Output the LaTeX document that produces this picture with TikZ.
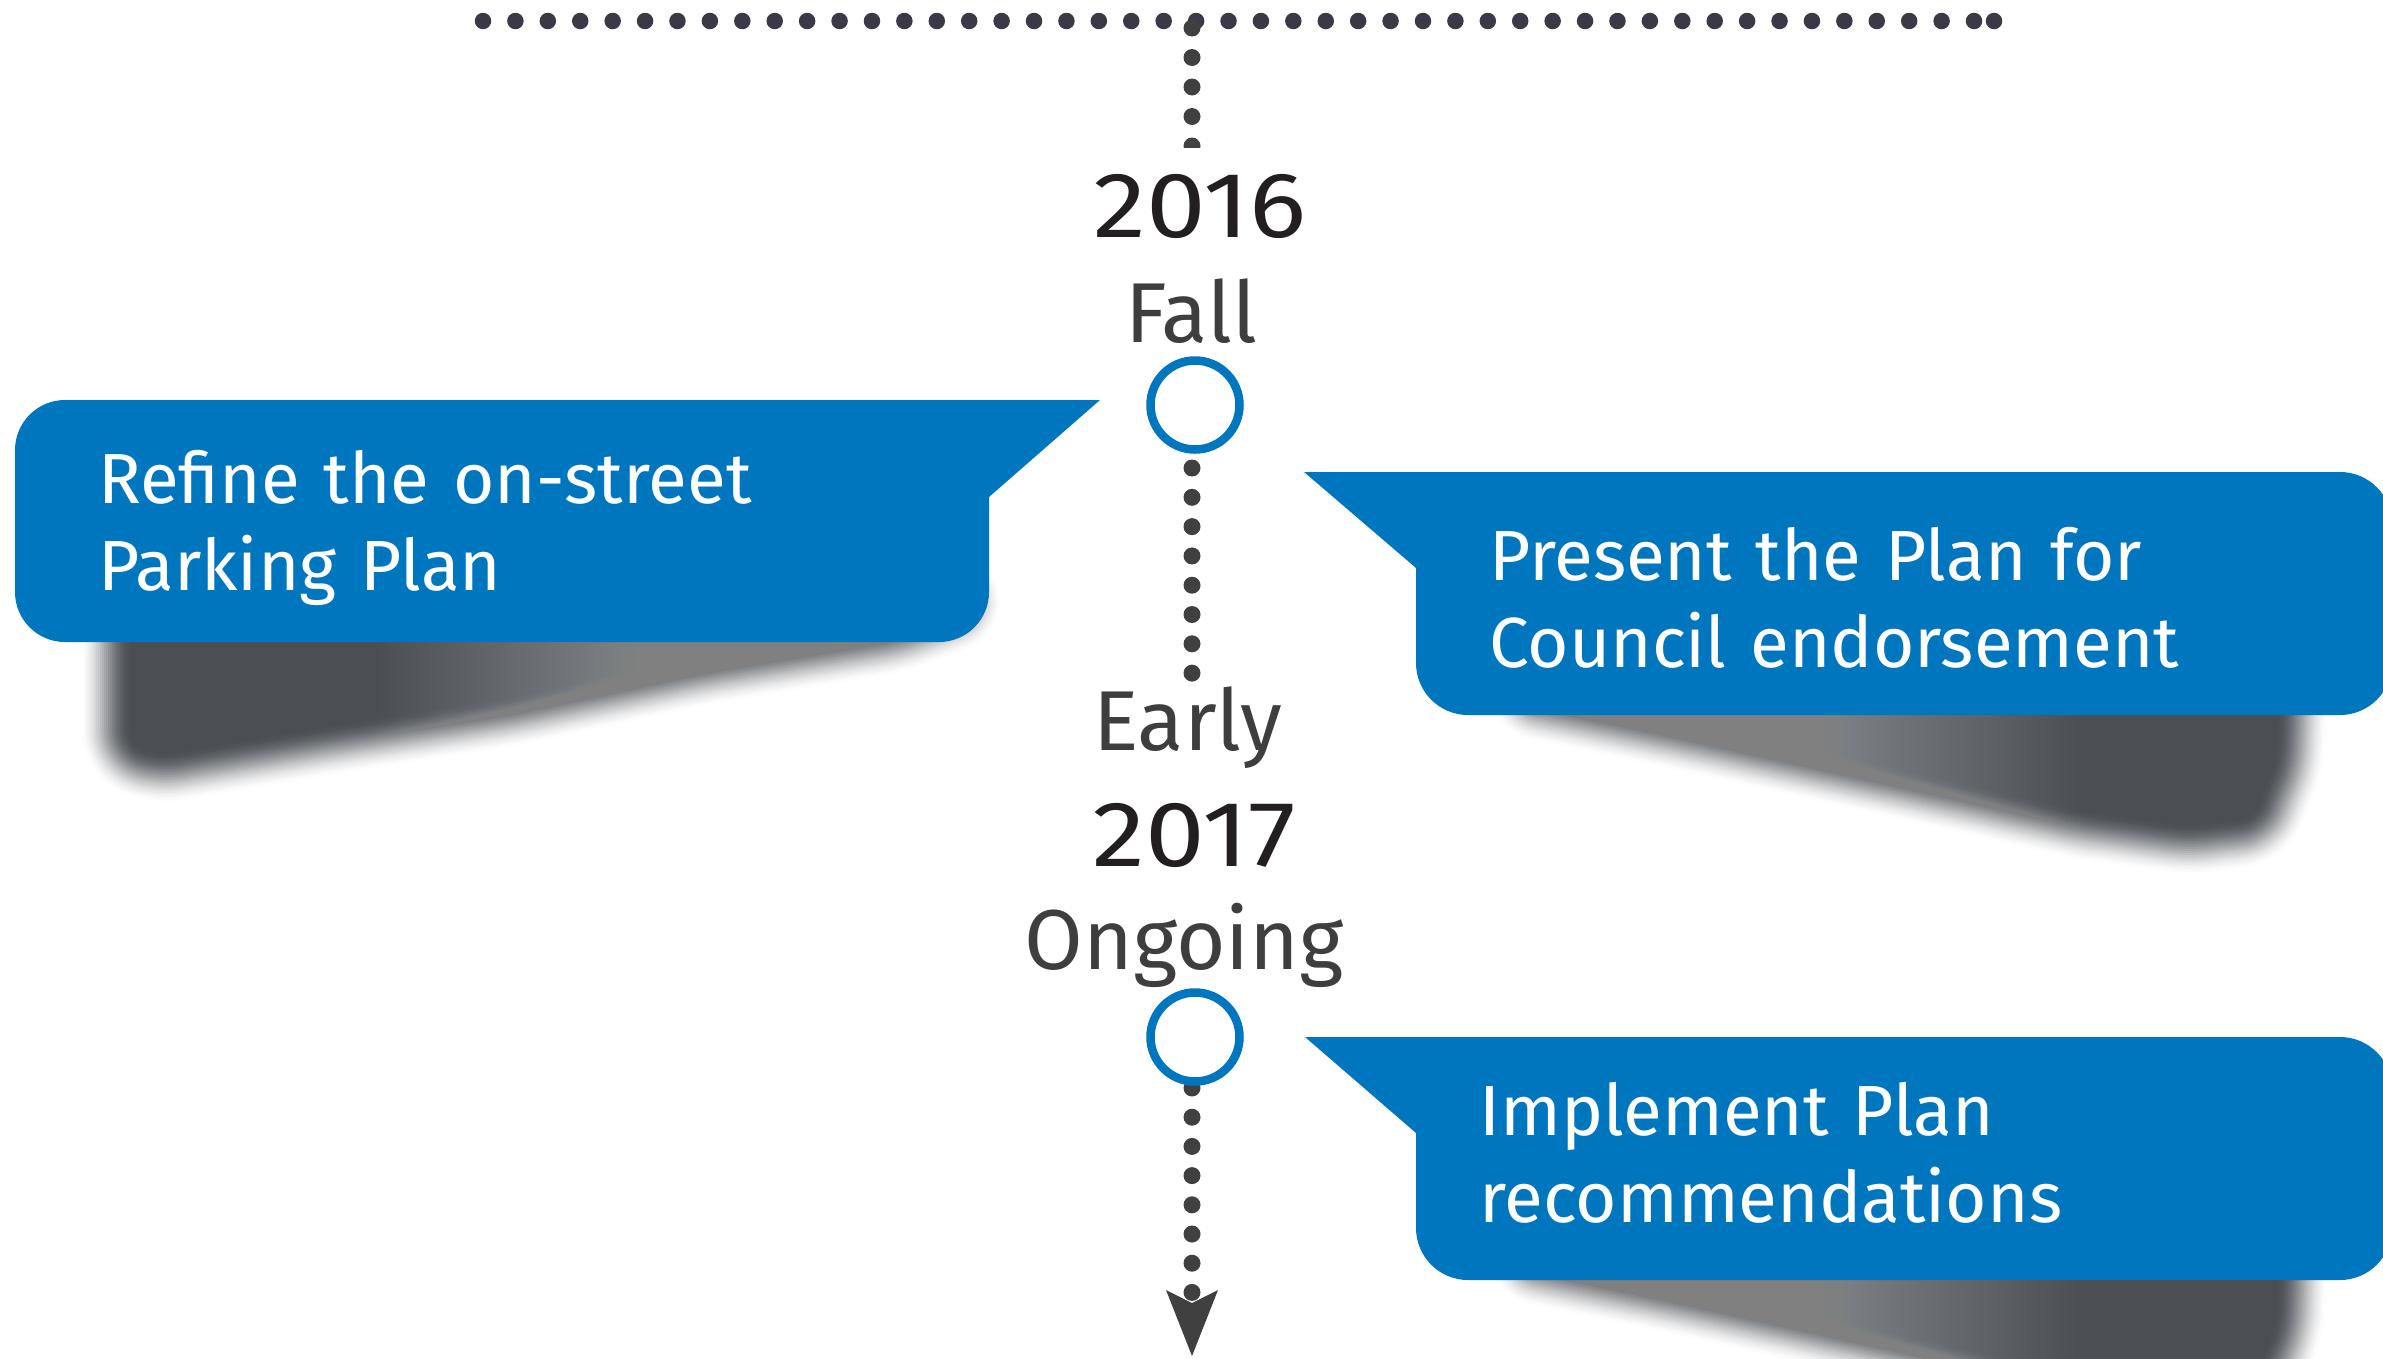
\documentclass[tikz,border=0pt]{standalone}
\usepackage{fontspec}
\setmainfont{Fira Sans}
\newfontfamily\yearfont{Fira Sans}[FakeStretch=1.15]
\definecolor{cblue}{HTML}{0076BE}
\definecolor{dotc}{HTML}{404040}
\definecolor{topdot}{HTML}{3A3945}
\definecolor{yearc}{HTML}{231F20}
\definecolor{seasonc}{HTML}{3E3E3E}
\definecolor{shad}{HTML}{4B4F54}
\newcommand\softshadow[1]{%
  \foreach \i in {0,...,24}{%
    \pgfmathsetmacro\tt{(\i+1)/26}%
    \pgfmathtruncatemacro\pp{100*\tt*\tt*(3-2*\tt)}%
    \pgfmathsetmacro\ww{100-4*\i}%
    \filldraw[fill=shad!\pp!white, draw=shad!\pp!white, line width=\ww pt, line join=round, rounded corners=15pt] #1;
  }%
  \fill[shad, rounded corners=15pt] #1;
}
\begin{document}
\begin{tikzpicture}[x=1pt,y=-1pt,
  yearlbl/.style={text=yearc, font=\yearfont\fontsize{93}{93}\selectfont, anchor=base, inner sep=0pt},
  seasonlbl/.style={text=seasonc, font=\fontsize{85}{85}\selectfont, anchor=base, inner sep=0pt},
  calltext/.style={text=white, font=\fontsize{71}{87}\selectfont, anchor=base west, inner sep=0pt, text width=1000pt, align=left},
  milestone/.style={circle, draw=cblue, fill=white, line width=8.5pt, minimum size=89pt, inner sep=0pt},
  vdots/.style={draw=dotc, line width=17pt, line cap=round, dash pattern=on 0pt off #1},
  topdots/.style={draw=topdot, line width=16.5pt, line cap=round, dash pattern=on 0pt off 32.4133pt},
  callout/.style={fill=cblue},
  whiten/.style={fill=white, opacity=0.0085},
]
\clip (0,0) rectangle (2383,1358);
\fill[white] (0,0) rectangle (2383,1358);

% shadows
\softshadow{(130,600) -- (960,600) -- (893,625) -- (701,657) -- (510,698) -- (319,728) -- (160,755) -- (130,745) -- cycle}
\foreach \k in {0,...,119}{\fill[whiten] (380+5*\k,580) rectangle (1010,880);}
\softshadow{(1530,690) -- (2280,690) -- (2276,760) -- (2253,818) -- (2189,826) -- (2081,811) -- (1972,786) -- (1683,722) -- cycle}
\foreach \k in {0,...,119}{\fill[whiten] (1430,690) rectangle (2080-5*\k,920);}
\begin{scope}[shift={(0,565)}]
\softshadow{(1530,690) -- (2280,690) -- (2276,760) -- (2253,818) -- (2189,826) -- (2081,811) -- (1972,786) -- (1683,722) -- cycle}
\foreach \k in {0,...,119}{\fill[whiten] (1430,690) rectangle (2080-5*\k,920);}
\end{scope}

% callouts
\fill[callout, rounded corners=50pt] (15,400) rectangle (989,642);
\fill[callout] (900,400) -- (1100,400) -- (989,497) -- (900,497) -- cycle;
\fill[callout, rounded corners=52pt] (1416,472) rectangle (2392,715);
\fill[callout] (1304,472) -- (1500,472) -- (1500,568) -- (1416,568) -- cycle;
\fill[callout, rounded corners=52pt] (1416,1037) rectangle (2392,1280);
\fill[callout] (1305,1037) -- (1500,1037) -- (1500,1133) -- (1416,1133) -- cycle;

% top dotted line
\coordinate (tl) at (483,21);
\coordinate (tr) at (1975,21);
\coordinate (tre) at (1994,21);
\draw[topdots] (tl) -- (tr);
\fill[topdot] (tre) circle (8.25);

% vertical dotted line
\coordinate (va1) at (1192,28);
\coordinate (va2) at (1192,148);
\begin{scope}
\clip (1150,0) rectangle (1240,147);
\draw[vdots=29.5pt] (va1) -- (va2);
\end{scope}
\coordinate (vb1) at (1192,468);
\coordinate (vb2) at (1192,675);
\draw[vdots=29.3pt] (vb1) -- (vb2);
\coordinate (vc1) at (1192,1088);
\coordinate (vc2) at (1192,1293);
\draw[vdots=29.2pt] (vc1) -- (vc2);
\coordinate (tip) at (1192,1356);
\fill[dotc] (tip) -- (1218,1290) -- (1192,1303) -- (1166,1290) -- cycle;

% milestones
\node[milestone] (c1) at (1195,405) {};
\node[milestone] (c2) at (1195,1037) {};

% labels
\node[yearlbl] (y2016) at (1200,237) {2016};
\node[seasonlbl] (fall) at (1191,342) {Fall};
\node[seasonlbl] (early) at (1188,750) {Early};
\node[yearlbl] (y2017) at (1194,866) {2017};
\node[seasonlbl] (ongoing) at (1184,969) {Ongoing};

% callout texts
\node[calltext] (t1) at (98,503) {Refine the on-street\\Parking Plan};
\node[calltext] (t2) at (1489,580) {Present the Plan for\\Council endorsement};
\node[calltext] (t3) at (1479,1135) {Implement Plan\\recommendations};
\end{tikzpicture}
\end{document}
